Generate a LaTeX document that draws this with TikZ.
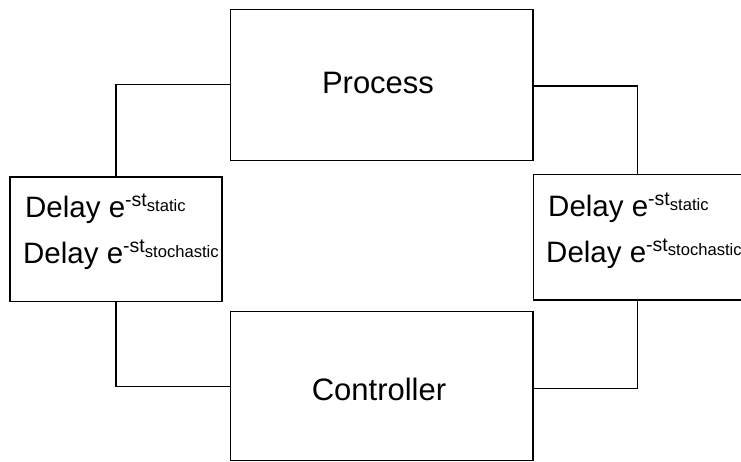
\documentclass[tikz,border=0pt]{standalone}
\usepackage{fontspec}
\setmainfont{Liberation Sans}
% delay label: Delay e^{-st_{sub}}
\newcommand{\dlyterm}[1]{{\fontsize{29.5}{29.5}\selectfont Delay e\raisebox{11pt}{\fontsize{19.5}{19.5}\selectfont -st\raisebox{-4.5pt}{\fontsize{16.6}{16.6}\selectfont #1}}}}
\begin{document}
\begin{tikzpicture}[x=1pt,y=-1pt,
  blockbox/.style={draw=black, line width=1.3pt, rectangle, inner sep=0pt, fill=white},
  bigtext/.style={font=\fontsize{31}{31}\selectfont},
  dlytext/.style={anchor=base west, inner sep=0pt},
  wire/.style={draw=black, line width=1.3pt}]
\useasboundingbox (0,0) rectangle (741,462);
\fill[white] (0,0) rectangle (741,462);

% main blocks
\node[blockbox, minimum width=302.3pt, minimum height=150.6pt] (proc) at (381.9,84.9) {};
\node[blockbox, minimum width=302.3pt, minimum height=149.4pt] (ctrl) at (381.9,386) {};
\node[bigtext, anchor=base, inner sep=0pt] (proct) at (378,93.3) {Process};
\node[bigtext, anchor=base, inner sep=0pt] (ctrlt) at (379,400) {Controller};

% delay blocks
\node[blockbox, minimum width=212pt, minimum height=124.7pt] (dl) at (116,239.35) {};
\node[blockbox, minimum width=212pt, minimum height=125.7pt] (dr) at (639.3,237.15) {};

\node[dlytext] (dl1) at (25,218) {\dlyterm{static}};
\node[dlytext] (dl2) at (23,264) {\dlyterm{stochastic}};
\node[dlytext] (dr1) at (548,217) {\dlyterm{static}};
\node[dlytext] (dr2) at (546,262) {\dlyterm{stochastic}};

% connector corners
\coordinate (lt) at (116,84.3);
\coordinate (lb) at (116,386.3);
\coordinate (rt) at (637.7,86);
\coordinate (rb) at (637.7,388.3);

\draw[wire] (proc.west |- lt) -- (lt) -- (lt |- dl.north);
\draw[wire] (lb |- dl.south) -- (lb) -- (ctrl.west |- lb);
\draw[wire] (proc.east |- rt) -- (rt) -- (rt |- dr.north);
\draw[wire] (rb |- dr.south) -- (rb) -- (ctrl.east |- rb);
\end{tikzpicture}
\end{document}
